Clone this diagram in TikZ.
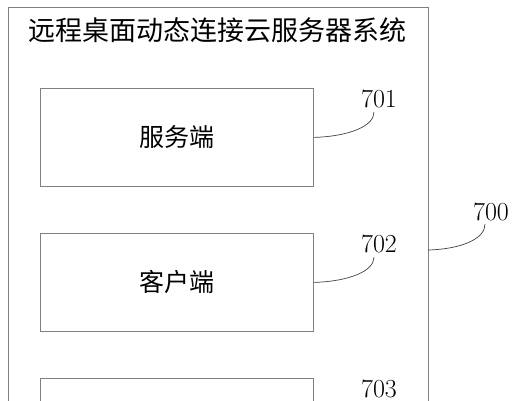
\documentclass[tikz,border=0pt]{standalone}
\usepackage{fontspec}
\newfontfamily\cjk{Noto Sans CJK SC}

\begin{document}
\begin{tikzpicture}[x=1pt, y=-1pt,
    box/.style={draw=gray, line width=0.8pt, rectangle, minimum width=273pt,
        minimum height=98pt, anchor=north west, font=\cjk\fontsize{25}{30}\selectfont},
    num/.style={inner sep=0pt, font=\fontsize{26}{30}\selectfont},
    lead/.style={draw=black!75, line width=0.7pt}]

\def\gap{145}

\useasboundingbox (0,0) rectangle (518,400);
\clip (0,0) rectangle (518,400);

% Outer system frame
\draw[gray, line width=0.8pt] (8,7) rectangle (428,460);
\node[font=\cjk\fontsize{27}{30}\selectfont] (title) at (217,30) {远程桌面动态连接云服务器系统};

% Module boxes and their numbers
\foreach \i/\txt in {1/服务端,2/客户端,3/{}} {
    \node[box] (b\i) at (40,{88+\gap*(\i-1)}) {\txt};
    \node[num] (l\i) at (379,{99+\gap*(\i-1)}) {70\i};
}

% Leader lines
\foreach \i in {1,2} {
    \draw[lead] (b\i.east) .. controls +(35,-1) and +(0,14) .. ([xshift=-5pt,yshift=-4pt]l\i.south);
}

% System number
\coordinate (sys) at (428,250);
\node[num] (l0) at (491,212) {700};
\draw[lead] (sys) .. controls +(35,-1) and +(0,14) .. ([xshift=-6pt,yshift=-3pt]l0.south);

\end{tikzpicture}
\end{document}
